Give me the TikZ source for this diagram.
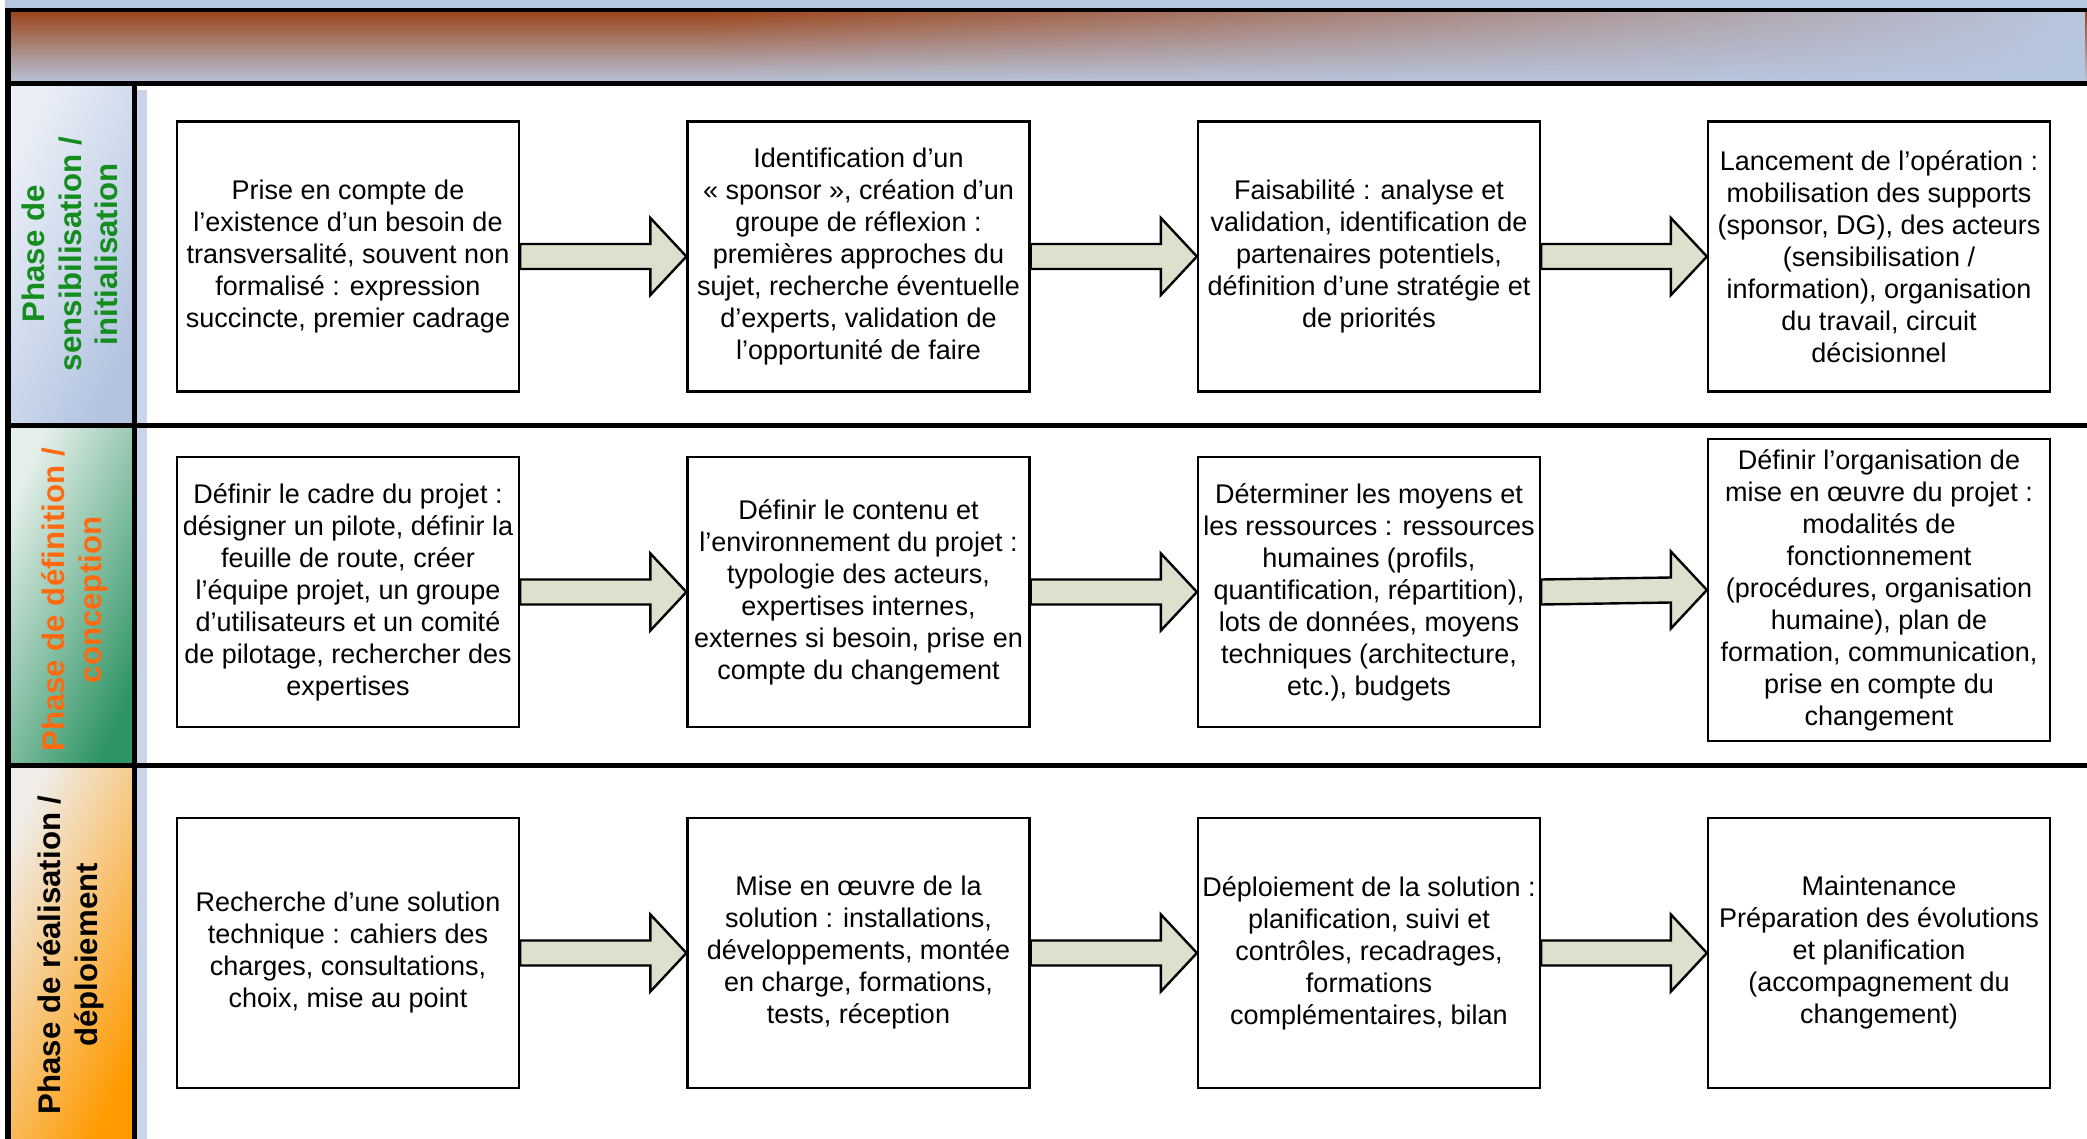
\documentclass[tikz,border=0pt]{standalone}
\usepackage{fontspec}
\setmainfont{Liberation Sans}
\usetikzlibrary{calc,fadings}
\definecolor{hdrblue}{HTML}{B8C7E0}
\definecolor{hdrbrown}{HTML}{9C4418}
\definecolor{arrfill}{HTML}{DDE0CC}
\definecolor{stripblue}{HTML}{CAD5EA}
\definecolor{lbgreen}{HTML}{148C1E}
\definecolor{lborange}{HTML}{FF6A10}
\definecolor{cellonel}{HTML}{EAEFF7}
\definecolor{celloned}{HTML}{B2C3E0}
\definecolor{celltwol}{HTML}{E6F0EB}
\definecolor{celltwod}{HTML}{2F9464}
\definecolor{cellthreel}{HTML}{F0ECE8}
\definecolor{cellthreed}{HTML}{FF9A00}
\tikzfading[name=fadelr, left color=transparent!100, right color=transparent!0]
\tikzset{
  stepbox/.style={draw, line width=1.1pt, minimum width=171pt, minimum height=135pt,
    align=center, inner sep=0pt, font=\fontsize{13.5pt}{16pt}\selectfont},
  blockarrow/.style={draw, line width=1.2pt, fill=arrfill, line join=miter},
  lbl/.style={rotate=90, align=center, font=\bfseries\fontsize{15.6pt}{18.3pt}\selectfont},
  sepline/.style={line width=2.5pt},
  cellshade/.style n args={2}{left color=#1, middle color=#2!80!#1, right color=#2, shading angle=65},
}
\newcommand\blockarr[2]{%
  \draw[blockarrow] ($(#1.east)+(0,-12.5)$) -- ($(#2.west)+(-36,-12.5)$) -- ($(#2.west)+(-36,-38.5)$)
    -- (#2.west) -- ($(#2.west)+(-36,38.5)$) -- ($(#2.west)+(-36,12.5)$) -- ($(#1.east)+(0,12.5)$) -- cycle;}
\begin{document}
\begin{tikzpicture}[x=0.5pt,y=-0.5pt]
\useasboundingbox (0,0) rectangle (2087,1139);
% header
\fill[hdrblue] (5,0) rectangle (2087,11);
\shade[top color=hdrbrown, middle color=hdrbrown!80!hdrblue, bottom color=hdrblue] (11,11) rectangle (2087,84);
\fill[hdrblue, path fading=fadelr] (700,11) rectangle (2087,84);
% label cells
\shade[cellshade={cellonel}{celloned}] (11,86) rectangle (132,424);
\shade[cellshade={celltwol}{celltwod}] (11,426) rectangle (132,764);
\shade[cellshade={cellthreel}{cellthreed}] (11,766) rectangle (132,1139);
\fill[stripblue] (137,90) rectangle (147,1139);
% frame lines
\draw[line width=2pt] (5,10) -- (2087,10);
\draw[sepline] (5,84) -- (2087,84);
\draw[sepline] (5,425) -- (2087,425);
\draw[sepline] (5,765) -- (2087,765);
\draw[line width=3.2pt] (8,9) -- (8,1139);
\draw[sepline] (134.5,84) -- (134.5,1139);
% labels
\node[lbl, text=lbgreen] (l1) at (70,254) {Phase de\\sensibilisation /\\initialisation};
\node[lbl, text=lborange] (l2) at (75,600) {Phase de définition /\\conception};
\node[lbl, text=black] (l3) at (71,955) {Phase de réalisation /\\déploiement};
% row 1
\node[stepbox] (a1) at (348,256.5) {Prise en compte de\\l’existence d’un besoin de\\transversalité, souvent non\\formalisé : expression\\succincte, premier cadrage};
\node[stepbox] (a2) at (858.5,256.5) {Identification d’un\\« sponsor », création d’un\\groupe de réflexion :\\premières approches du\\sujet, recherche éventuelle\\d’experts, validation de\\l’opportunité de faire};
\node[stepbox] (a3) at (1369,256.5) {Faisabilité : analyse et\\validation, identification de\\partenaires potentiels,\\définition d’une stratégie et\\de priorités};
\node[stepbox] (a4) at (1879,256.5) {Lancement de l’opération :\\mobilisation des supports\\(sponsor, DG), des acteurs\\(sensibilisation /\\information), organisation\\du travail, circuit\\décisionnel};
% row 2
\node[stepbox] (b1) at (348,592) {Définir le cadre du projet :\\désigner un pilote, définir la\\feuille de route, créer\\l’équipe projet, un groupe\\d’utilisateurs et un comité\\de pilotage, rechercher des\\expertises};
\node[stepbox] (b2) at (858.5,592) {Définir le contenu et\\l’environnement du projet :\\typologie des acteurs,\\expertises internes,\\externes si besoin, prise en\\compte du changement};
\node[stepbox] (b3) at (1369,592) {Déterminer les moyens et\\les ressources : ressources\\humaines (profils,\\quantification, répartition),\\lots de données, moyens\\techniques (architecture,\\etc.), budgets};
\node[stepbox, minimum height=151pt] (b4) at (1879,590) {Définir l’organisation de\\mise en œuvre du projet :\\modalités de\\fonctionnement\\(procédures, organisation\\humaine), plan de\\formation, communication,\\prise en compte du\\changement};
% row 3
\node[stepbox] (c1) at (348,953) {Recherche d’une solution\\technique : cahiers des\\charges, consultations,\\choix, mise au point};
\node[stepbox] (c2) at (858.5,953) {Mise en œuvre de la\\solution : installations,\\développements, montée\\en charge, formations,\\tests, réception};
\node[stepbox] (c3) at (1369,953) {Déploiement de la solution :\\planification, suivi et\\contrôles, recadrages,\\formations\\complémentaires, bilan};
\node[stepbox] (c4) at (1879,953) {Maintenance\\Préparation des évolutions\\et planification\\(accompagnement du\\changement)};
% arrows
\blockarr{a1}{a2}\blockarr{a2}{a3}\blockarr{a3}{a4}
\blockarr{b1}{b2}\blockarr{b2}{b3}\blockarr{b3}{b4}
\blockarr{c1}{c2}\blockarr{c2}{c3}\blockarr{c3}{c4}
\end{tikzpicture}
\end{document}
